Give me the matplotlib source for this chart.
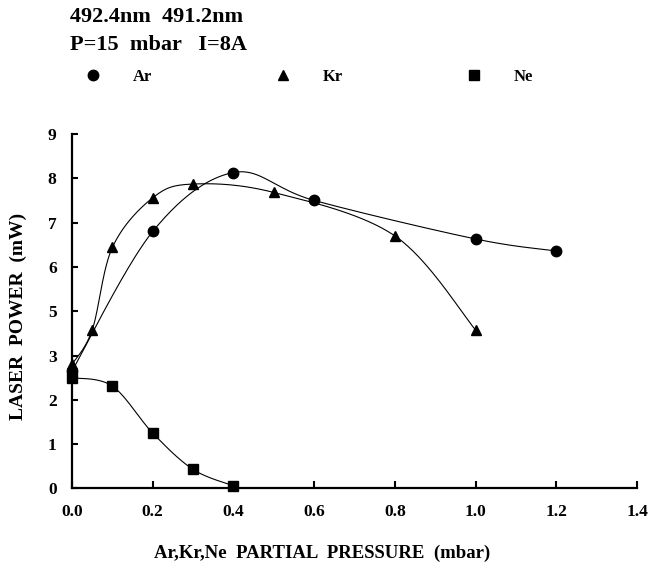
import numpy as np
import matplotlib
matplotlib.use("Agg")
import matplotlib.pyplot as plt
from matplotlib.lines import Line2D

# data (mbar, mW)
ar_x = [0.0, 0.2, 0.4, 0.6, 1.0, 1.2]
ar_y = [2.65, 6.8, 8.13, 7.5, 6.63, 6.36]

kr_x = [0.0, 0.05, 0.1, 0.2, 0.3, 0.5, 0.8, 1.0]
kr_y = [2.8, 4.15, 6.44, 7.56, 7.87, 7.68, 6.7, 4.15]

ne_x = [0.0, 0.1, 0.2, 0.3, 0.4]
ne_y = [2.5, 2.31, 1.25, 0.43, 0.06]

x_ticks = [0.0, 0.2, 0.4, 0.6, 0.8, 1.0, 1.2, 1.4]
y_ticks = [0, 1, 2, 3, 5, 6, 7, 8, 9]   # the original axis skips "4"

header1 = "492.4nm  491.2nm"
header2 = "P=15  mbar   I=8A"

plt.rcParams['font.family'] = ['Liberation Serif', 'DejaVu Serif']
plt.rcParams['font.weight'] = 'bold'


# y axis of the original: 0..3 linear, 3..5 squeezed into one step, then linear
def fwd(v):
    v = np.asarray(v, dtype=float)
    return np.where(v <= 3, v, np.where(v < 5, 3 + (v - 3) / 2.0, v - 1))


def inv(p):
    p = np.asarray(p, dtype=float)
    return np.where(p <= 3, p, np.where(p < 4, 3 + 2 * (p - 3), p + 1))


# smoothed line (bezier through the points, like a spreadsheet "smooth line")
def smooth(xs, ys, n=40):
    sx, sy = 403.6, 44.3   # px per unit, so the curve is built in screen-like space
    P = np.column_stack([np.asarray(xs) * sx, fwd(ys) * sy])
    pts = np.vstack([P[0], P, P[-1]])
    out = []
    t = np.linspace(0, 1, n)[:, None]
    for i in range(1, len(pts) - 2):
        p0, p1, p2, p3 = pts[i - 1], pts[i], pts[i + 1], pts[i + 2]
        c1 = p1 + (p2 - p0) / 6.0
        c2 = p2 - (p3 - p1) / 6.0
        seg = (1 - t) ** 3 * p1 + 3 * (1 - t) ** 2 * t * c1 + 3 * (1 - t) * t ** 2 * c2 + t ** 3 * p2
        out.append(seg)
    out = np.vstack(out)
    return out[:, 0] / sx, inv(out[:, 1] / sy)


fig = plt.figure(figsize=(6.54, 5.73), dpi=100)
ax = fig.add_axes([0.1101, 0.1475, 0.864, 0.6187])
ax.set_yscale('function', functions=(fwd, inv))

for xs, ys, mk, ms in [(ar_x, ar_y, 'o', 7.5), (kr_x, kr_y, '^', 7.5), (ne_x, ne_y, 's', 6.8)]:
    cx, cy = smooth(xs, ys)
    ax.plot(cx, cy, color='black', lw=0.8, zorder=2)
    ax.plot(xs, ys, linestyle='none', marker=mk, ms=ms, color='black', zorder=3, clip_on=False)

ax.set_xlim(0, 1.4)
ax.set_ylim(0, 9)
ax.set_xticks(x_ticks)
ax.set_xticklabels(['%.1f' % v for v in x_ticks])
ax.set_yticks(y_ticks)
ax.set_yticklabels([str(v) for v in y_ticks])
ax.minorticks_off()

for s in ['top', 'right']:
    ax.spines[s].set_visible(False)
for s in ['left', 'bottom']:
    ax.spines[s].set_linewidth(1.6)

ax.tick_params(axis='y', direction='in', length=4.5, width=1.5, pad=11, labelsize=12.5)
ax.tick_params(axis='x', direction='in', length=5, width=1.5, pad=11, labelsize=12.5)
for lab in ax.get_xticklabels() + ax.get_yticklabels():
    lab.set_fontweight('bold')

fig.text(322 / 654, 1 - 553 / 573, "Ar,Kr,Ne  PARTIAL  PRESSURE  (mbar)",
         ha='center', va='center', fontsize=13.5, fontweight='bold')
fig.text(18 / 654, 1 - 316 / 573, "LASER  POWER  (mW)", rotation=90,
         ha='center', va='center', fontsize=14, fontweight='bold')

fig.text(70 / 654, 1 - 17 / 573, header1, ha='left', va='center', fontsize=16, fontweight='bold')
fig.text(70 / 654, 1 - 45 / 573, header2, ha='left', va='center', fontsize=16, fontweight='bold')

handles = [Line2D([], [], ls='none', marker='o', ms=7.5, color='black'),
           Line2D([], [], ls='none', marker='^', ms=7.5, color='black'),
           Line2D([], [], ls='none', marker='s', ms=6.8, color='black')]
fig.legend(handles, ['Ar', 'Kr', 'Ne'], ncol=3, frameon=False,
           loc='center left', bbox_to_anchor=(85 / 654, 1 - 77 / 573),
           borderpad=0, borderaxespad=0, handlelength=1.0, handletextpad=1.85,
           columnspacing=7.4, prop={'size': 12, 'weight': 'bold'})

fig.savefig('out.png', dpi=100)
